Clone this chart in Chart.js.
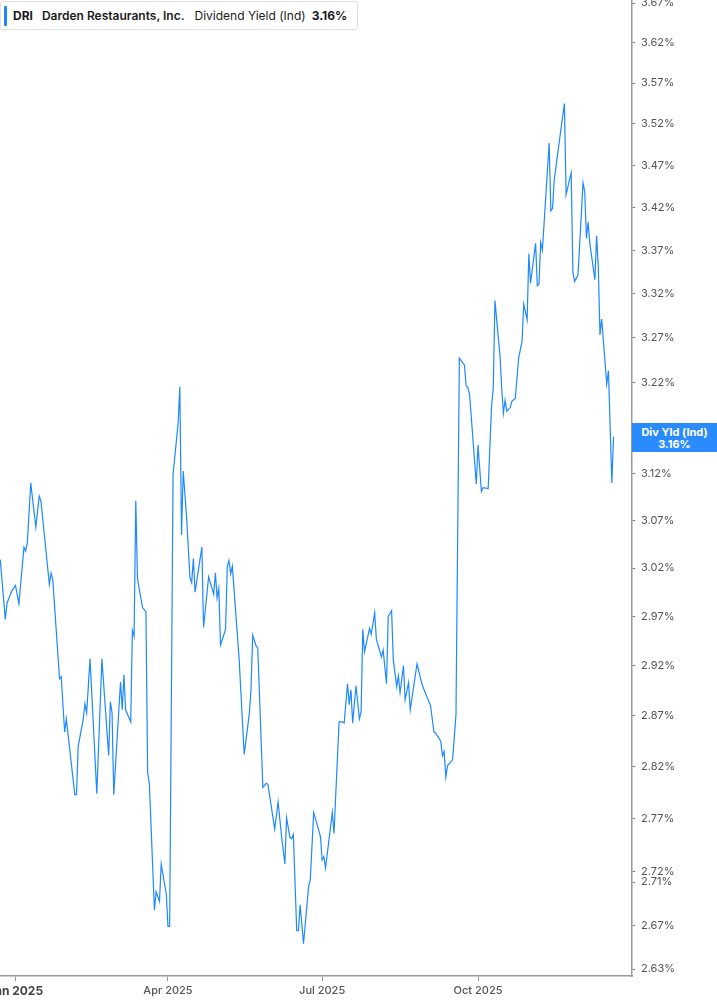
<!DOCTYPE html>
<html>
<head>
<meta charset="utf-8">
<script src="https://cdn.jsdelivr.net/npm/chart.js@4.4.1/dist/chart.umd.min.js"></script>
<style>
  html, body { margin: 0; padding: 0; background: #fff; }
  #wrap { position: relative; width: 717px; height: 1005px; overflow: hidden; }
  #legend {
    position: absolute; left: 0; top: 1px; height: 29px; width: 358px; box-sizing: border-box;
    border: 1px solid #e2e2e2; border-radius: 3px; background: #fff;
    display: flex; align-items: center; font-family: Inter, "Noto Sans", sans-serif;
    font-size: 12px; color: #1b1b1b; white-space: nowrap;
  }
  #legend .bar { width: 3px; height: 20px; background: #1e88ff; margin-left: 3px; border-radius: 1px; }
  #valbox {
    position: absolute; left: 632px; top: 423px; width: 85px; height: 29px;
    background: #2a8bff; color: #fff; font-family: Inter, "Noto Sans", sans-serif;
    font-size: 11px; font-weight: 700; line-height: 12px; text-align: center;
    display: flex; flex-direction: column; justify-content: center;
  }
</style>
</head>
<body>
<div id="wrap">
  <canvas id="c" width="717" height="1005"></canvas>
  <div id="legend">
    <span class="bar"></span>
    <span style="font-weight:700;margin-left:6px">DRI</span>
    <span style="font-weight:600;margin-left:9px">Darden Restaurants, Inc.</span>
    <span style="font-weight:400;margin-left:10px">Dividend Yield (Ind)</span>
    <span style="font-weight:700;margin-left:6px">3.16%</span>
  </div>
  <div id="valbox"><div>Div Yld (Ind)</div><div>3.16%</div></div>
</div>
<script>
// Days since 1 Jan 2025
const days = [
  -9,-6,-5,-2,0,2,5,6,7,9,12,14,15,20,21,22,26,27,29,30,
  35,36,37,40,41,42,44,48,51,55,56,57,58,62,63,64,65,68,69,70,
  71,72,75,77,78,79,82,83,85,86,89,90,91,93,96,97,98,99,101,103,
  104,105,106,110,111,114,117,118,119,120,121,124,125,126,127,128,132,135,138,139,
  140,142,143,146,148,149,153,155,157,159,160,162,163,164,166,167,168,170,173,174,
  176,180,181,182,183,187,188,191,193,194,196,197,198,199,201,203,204,205,206,209,
  210,212,213,216,217,219,220,222,223,225,226,227,229,230,232,233,237,240,245,247,
  248,251,252,253,254,255,258,260,262,265,266,267,268,272,273,275,276,279,281,282,
  283,286,287,288,289,290,292,293,295,297,299,300,302,303,304,307,308,309,310,311,
  315,316,317,318,321,324,325,327,328,329,330,332,335,336,337,338,339,342,343,344,
  345,346,349,350,352,353
];
// Dividend yield (%)
const yields = [
  3.029,2.967,2.984,2.997,3.002,2.983,3.042,3.038,3.047,3.110,3.063,3.096,3.091,3.003,3.015,3.008,2.907,2.909,2.854,2.867,
  2.793,2.793,2.840,2.867,2.882,2.873,2.927,2.794,2.927,2.831,2.884,2.873,2.793,2.904,2.876,2.911,2.876,2.864,2.956,2.950,
  3.091,3.009,2.979,2.975,2.814,2.804,2.684,2.701,2.692,2.727,2.699,2.669,2.669,3.119,3.175,3.215,3.055,3.123,3.073,3.010,
  3.005,3.030,2.995,3.042,2.959,3.011,2.993,3.015,2.989,2.999,2.941,2.957,3.022,3.028,3.014,3.022,2.927,2.832,2.872,2.896,
  2.951,2.940,2.938,2.800,2.804,2.803,2.760,2.786,2.754,2.727,2.771,2.752,2.751,2.755,2.665,2.665,2.689,2.653,2.706,2.712,
  2.776,2.753,2.731,2.734,2.723,2.776,2.756,2.864,2.864,2.863,2.902,2.881,2.896,2.863,2.900,2.867,2.874,2.957,2.934,2.958,
  2.952,2.974,2.947,2.929,2.936,2.902,2.970,2.976,2.926,2.899,2.910,2.893,2.920,2.886,2.903,2.876,2.922,2.901,2.880,2.854,
  2.853,2.845,2.831,2.835,2.810,2.821,2.827,2.871,3.247,3.239,3.216,3.214,3.207,3.109,3.151,3.101,3.105,3.104,3.193,3.213,
  3.312,3.249,3.213,3.186,3.200,3.188,3.192,3.199,3.202,3.247,3.266,3.308,3.290,3.366,3.332,3.378,3.329,3.331,3.379,3.370,
  3.497,3.416,3.419,3.453,3.499,3.545,3.435,3.453,3.461,3.345,3.334,3.341,3.449,3.439,3.384,3.403,3.378,3.336,3.387,3.351,
  3.273,3.291,3.218,3.233,3.110,3.160
];
const xTickDays = [0, 90, 181, 273];
const xTickLabels = ['Jan 2025', 'Apr 2025', 'Jul 2025', 'Oct 2025'];
const yTickValues = [3.67,3.62,3.57,3.52,3.47,3.42,3.37,3.32,3.27,3.22,3.17,3.12,3.07,3.02,2.97,2.92,2.87,2.82,2.77,2.72,2.71,2.67,2.63];

const points = days.map((d, i) => ({ x: d, y: yields[i] }));

new Chart(document.getElementById('c'), {
  type: 'line',
  data: {
    datasets: [{
      data: points,
      borderColor: '#1e88ff',
      borderWidth: 1.2,
      pointRadius: 0,
      tension: 0,
      fill: false
    }]
  },
  options: {
    responsive: false,
    animation: false,
    layout: { padding: 0 },
    plugins: { legend: { display: false }, tooltip: { enabled: false } },
    scales: {
      x: {
        type: 'linear',
        min: -9.15,
        max: 363.9,
        afterBuildTicks: s => { s.ticks = xTickDays.map(v => ({ value: v })); },
        afterFit: s => { s.height = 29; s.paddingLeft = 0; s.paddingRight = 0; },
        grid: { drawOnChartArea: false, tickLength: 5, color: '#999', tickWidth: 1 },
        border: { display: true, color: '#9a9a9a', width: 1.5 },
        ticks: {
          autoSkip: false, maxRotation: 0, padding: 3,
          callback: (v, i) => xTickLabels[i],
          font: ctx => ctx.index === 0
            ? { family: 'Inter', size: 12, weight: '700' }
            : { family: 'Inter', size: 11, weight: '500' },
          color: ctx => ctx.index === 0 ? '#444' : '#555'
        }
      },
      y: {
        type: 'logarithmic',
        position: 'right',
        min: 2.6237,
        max: 3.6738,
        afterBuildTicks: s => { s.ticks = yTickValues.map(v => ({ value: v })); },
        afterFit: s => { s.width = 85; s.paddingTop = 0; s.paddingBottom = 0; },
        grid: { drawOnChartArea: false, tickLength: 3, color: '#777', tickWidth: 1 },
        border: { display: true, color: '#9a9a9a', width: 1.5 },
        ticks: {
          autoSkip: false, padding: 6,
          callback: v => Number(v).toFixed(2) + '%',
          font: { family: 'Inter', size: 11 },
          color: '#555'
        }
      }
    }
  }
});
</script>
</body>
</html>
